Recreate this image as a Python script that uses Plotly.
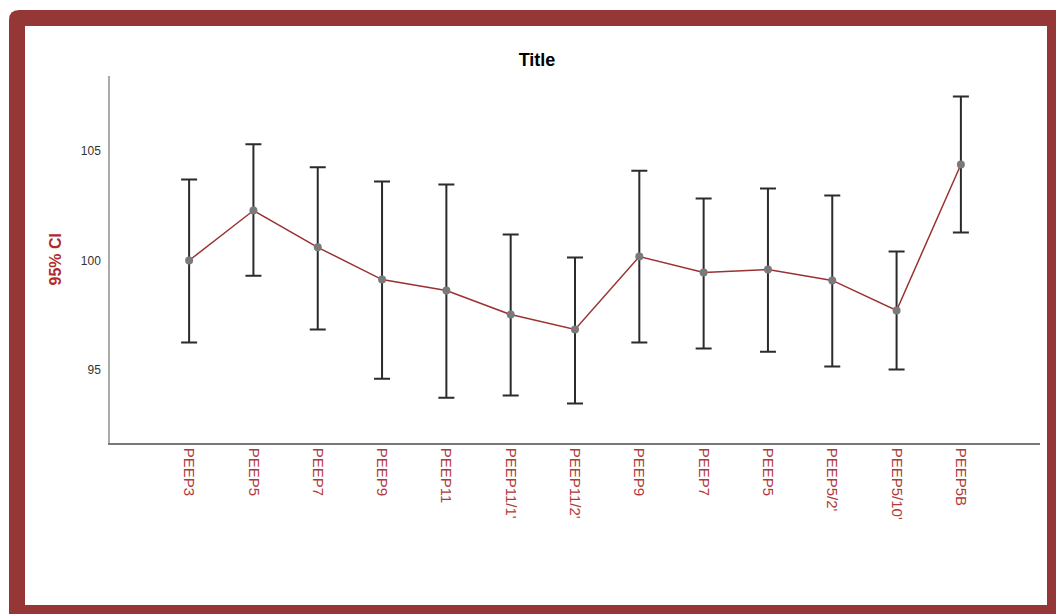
import plotly.graph_objects as go

categories = ["PEEP3", "PEEP5", "PEEP7", "PEEP9", "PEEP11", "PEEP11/1'", "PEEP11/2'",
              "PEEP9", "PEEP7", "PEEP5", "PEEP5/2'", "PEEP5/10'", "PEEP5B"]
mean_vals = [100.0, 102.28, 100.6, 99.13, 98.63, 97.53, 96.85, 100.18, 99.45, 99.59, 99.09, 97.72, 104.38]
upper_vals = [103.7, 105.3, 104.25, 103.6, 103.47, 101.19, 100.14, 104.1, 102.83, 103.29, 102.97, 100.41, 107.49]
lower_vals = [96.26, 99.3, 96.85, 94.6, 93.74, 93.84, 93.47, 96.26, 95.98, 95.84, 95.16, 95.02, 101.28]
y_ticks = [95, 100, 105]

W, H = 1056, 614
ML, MR, MT, MB = 110, 16, 76, 171
PW, PH = W - ML - MR, H - MT - MB

positions = list(range(len(categories)))

fig = go.Figure()
fig.add_trace(go.Scatter(
    x=positions, y=mean_vals, mode="lines+markers",
    line=dict(color="#9a3232", width=1.5),
    marker=dict(color="#7a7a7a", size=8),
    error_y=dict(type="data", symmetric=False,
                 array=[u - m for u, m in zip(upper_vals, mean_vals)],
                 arrayminus=[m - l for m, l in zip(mean_vals, lower_vals)],
                 color="#2b2b2b", thickness=2, width=8),
    showlegend=False, hoverinfo="skip",
))


def px(x):
    return (x - ML) / PW


def py(y):
    return (H - MB - y) / PH


def rounded_rect(x0, y0, x1, y1, r):
    return (f"M {px(x0 + r)},{py(y0)} L {px(x1 - r)},{py(y0)} "
            f"Q {px(x1)},{py(y0)} {px(x1)},{py(y0 + r)} "
            f"L {px(x1)},{py(y1 - r)} Q {px(x1)},{py(y1)} {px(x1 - r)},{py(y1)} "
            f"L {px(x0 + r)},{py(y1)} Q {px(x0)},{py(y1)} {px(x0)},{py(y1 - r)} "
            f"L {px(x0)},{py(y0 + r)} Q {px(x0)},{py(y0)} {px(x0 + r)},{py(y0)} Z")


shapes = [
    dict(type="path", xref="paper", yref="paper", layer="below",
         path=rounded_rect(9, 10, 1066, 624, 10), fillcolor="#963737", line=dict(width=0)),
    dict(type="rect", xref="paper", yref="paper", layer="below",
         x0=px(25), x1=px(1047), y0=py(26), y1=py(605), fillcolor="white", line=dict(width=0)),
]

fig.update_layout(
    width=W, height=H,
    margin=dict(l=ML, r=MR, t=MT, b=MB),
    paper_bgcolor="white", plot_bgcolor="white",
    font=dict(family="Liberation Sans, Arial, sans-serif"),
    title=dict(text="<b>Title</b>", x=px(537), xref="paper", xanchor="center",
               y=1 - 60 / H, yref="container", yanchor="middle",
               font=dict(size=18, color="black")),
    shapes=shapes,
    xaxis=dict(range=[-1.23, 13.23], tickmode="array", tickvals=positions, ticktext=categories,
               tickangle=90, showgrid=False, zeroline=False, showline=True,
               linecolor="#777777", linewidth=1.5, ticks="", ticklen=0,
               tickfont=dict(family="Liberation Sans, Arial", size=15,
                             color="#b03a3a")),
    yaxis=dict(range=[91.67, 108.42], tickmode="array", tickvals=y_ticks,
               ticktext=[str(t) for t in y_ticks],
               showgrid=False, zeroline=False, showline=True,
               linecolor="#aaaaaa", linewidth=1.5, ticks="outside", ticklen=5,
               tickcolor="rgba(0,0,0,0)",
               tickfont=dict(size=12, color="#333333")),
    annotations=[dict(text="<b>95% CI</b>", textangle=-90, x=px(55), y=0.5,
                      xref="paper", yref="paper", showarrow=False,
                      xanchor="center", yanchor="middle",
                      font=dict(family="Liberation Sans, Arial", size=16,
                                color="#b02a2a"))],
)

fig.write_html("out.html", config={"displayModeBar": False},
               post_script="document.body.style.margin='0';document.body.style.overflow='hidden';")
